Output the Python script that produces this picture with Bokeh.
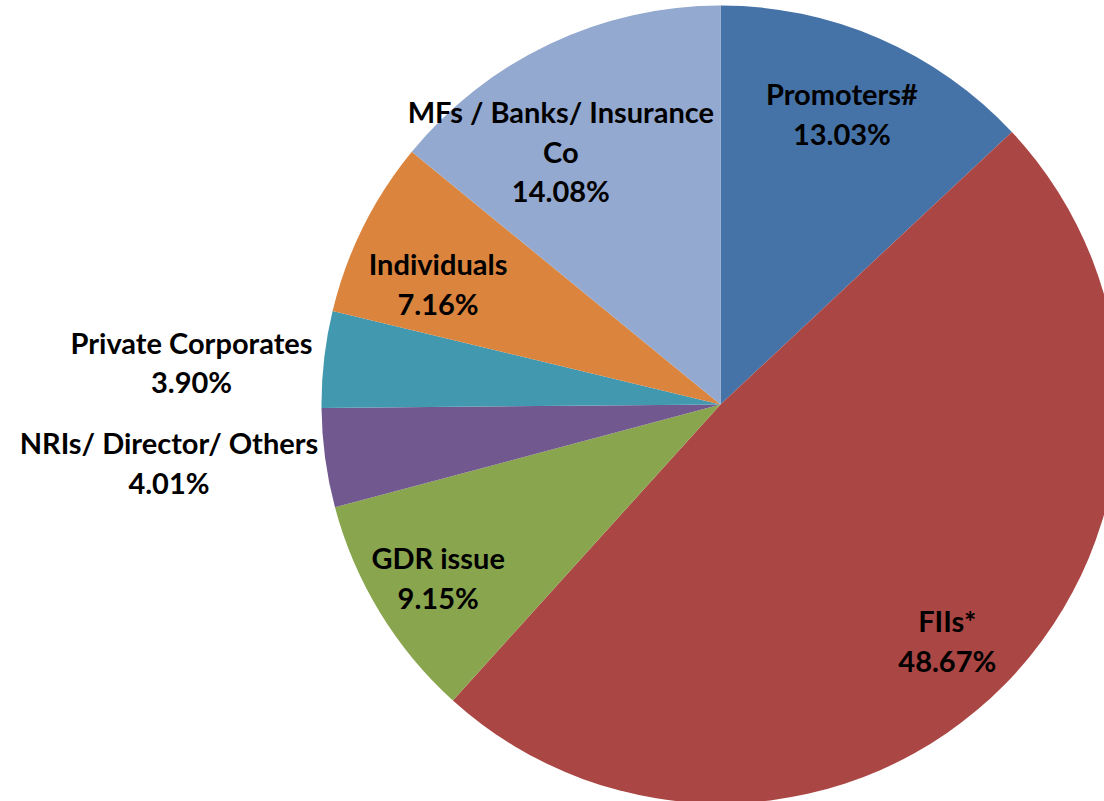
import math
from bokeh.plotting import figure
from bokeh.models import Range1d, ColumnDataSource
from bokeh.core.properties import value
from bokeh.embed import file_html
from bokeh.resources import INLINE

# ---- data ----
categories = ["Promoters#", "FIIs*", "GDR issue", "NRIs/ Director/ Others",
              "Private Corporates", "Individuals", "MFs / Banks/ Insurance\nCo"]
shares = [13.03, 48.67, 9.15, 4.01, 3.90, 7.16, 14.08]
colors = ["#4572A7", "#AA4643", "#89A54E", "#71588F", "#4198AF", "#DB843D", "#93A9CF"]

# label placement styles (radius factor, angle nudge in degrees)
label_rf = [0.79, 0.82, 0.83, 1.39, 1.33, 0.77, 0.75]
label_dtheta = [-0.8, 1.6, -0.1, 1.7, -1.9, -3.25, -6.9]

W, H = 1104, 801
cx, cy = 720, H - 404
R = 399

p = figure(width=W, height=H, output_backend="svg", toolbar_location=None,
           x_range=Range1d(0, W), y_range=Range1d(0, H),
           min_border=0, background_fill_color="white", border_fill_color="white")
p.axis.visible = False
p.xgrid.visible = False
p.ygrid.visible = False
p.outline_line_color = None

total = sum(shares)
starts, ends, lx, ly, texts = [], [], [], [], []
cum = 0.0
for i, s in enumerate(shares):
    a0 = cum / total * 2 * math.pi
    a1 = (cum + s) / total * 2 * math.pi
    starts.append(math.pi / 2 - a0)
    ends.append(math.pi / 2 - a1)
    mid = (a0 + a1) / 2 + math.radians(label_dtheta[i])
    lx.append(cx + label_rf[i] * R * math.sin(mid))
    ly.append(cy + label_rf[i] * R * math.cos(mid))
    texts.append(f"{categories[i]}\n{s:.2f}%")
    cum += s

src = ColumnDataSource(dict(start=starts, end=ends, color=colors,
                            x=[cx] * len(shares), y=[cy] * len(shares)))
p.wedge(x="x", y="y", radius=R, start_angle="start", end_angle="end",
        direction="clock", fill_color="color", line_color=None, source=src)

lsrc = ColumnDataSource(dict(x=lx, y=ly, t=texts))
p.text(x="x", y="y", text="t", source=lsrc, text_align="center",
       text_baseline="middle", text_font=value("Lato"), text_font_style="bold",
       text_font_size="29px", text_color="black", text_line_height=1.13)

open("out.html", "w").write(file_html(p, INLINE))
